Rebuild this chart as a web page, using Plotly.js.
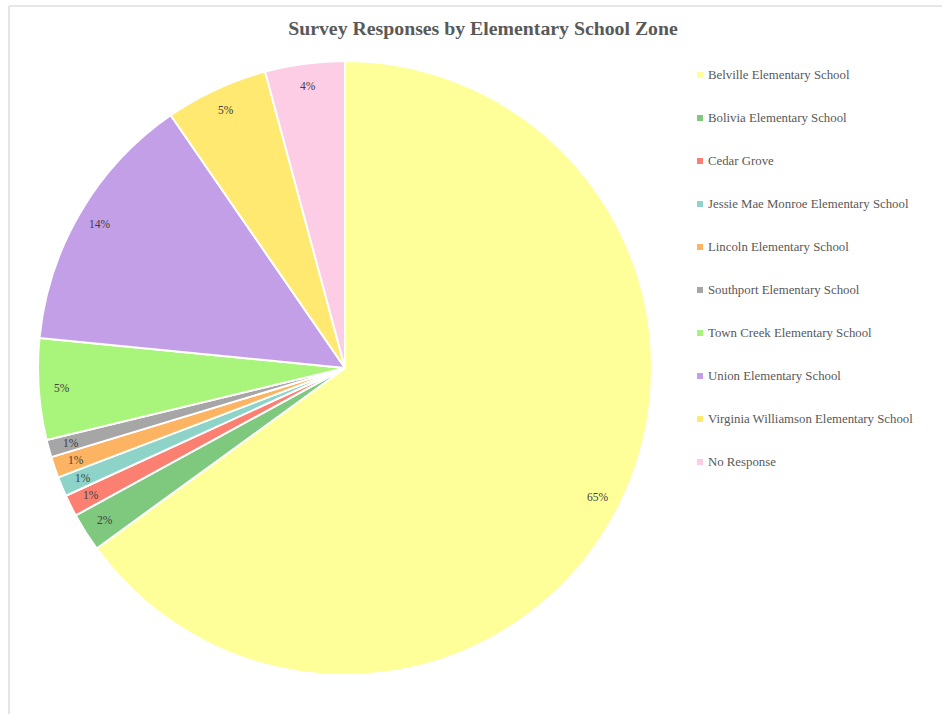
<!DOCTYPE html>
<html><head><meta charset="utf-8">
<script src="https://cdn.plot.ly/plotly-3.0.1.min.js"></script>
<style>html,body{margin:0;padding:0;background:#fff;}#chart{width:942px;height:714px;}</style>
</head><body><div id="chart"></div>
<script>
// ---- data (share of survey responses, %) ----
const labels = [
  "Belville Elementary School",
  "Bolivia Elementary School",
  "Cedar Grove",
  "Jessie Mae Monroe Elementary School",
  "Lincoln Elementary School",
  "Southport Elementary School",
  "Town Creek Elementary School",
  "Union Elementary School",
  "Virginia Williamson Elementary School",
  "No Response"
];
const values = [65.0, 2.03, 1.14, 1.03, 1.11, 0.92, 5.33, 13.83, 5.42, 4.19];
const colors = ["#ffff99", "#7fc97f", "#fb8072", "#8dd3c7", "#fdb462",
                "#a6a6a6", "#a9f47a", "#c39fe8", "#ffe970", "#fccde5"];
const chartTitle = "Survey Responses by Elementary School Zone";

// ---- layout geometry (pixels) ----
const W = 942, H = 714;
const CX = 345, CY = 368, R = 307;
const px = x => x / W, py = y => 1 - y / H;
const serif = "Liberation Serif, DejaVu Serif, serif";

const total = values.reduce((a, b) => a + b, 0);
const annotations = [];
const shapes = [];

// percentage labels placed near the rim of each slice
let cum = 0;
values.forEach((v, i) => {
  const mid = (cum + v / 2) / total * 2 * Math.PI;
  cum += v;
  const rr = 0.925 * R;
  annotations.push({
    x: px(CX + rr * Math.sin(mid)), y: py(CY - rr * Math.cos(mid)),
    xref: "paper", yref: "paper", showarrow: false,
    xanchor: "center", yanchor: "middle",
    text: Math.round(v / total * 100) + "%",
    font: {family: serif, size: 11.5, color: "#404040"}
  });
});

// legend built from labels/colors
labels.forEach((l, i) => {
  const y = 75 + 43 * i;
  shapes.push({type: "rect", xref: "paper", yref: "paper",
    x0: px(697), x1: px(703), y0: py(y + 3), y1: py(y - 3),
    fillcolor: colors[i], line: {width: 0}});
  annotations.push({x: px(705.5), y: py(y), xref: "paper", yref: "paper",
    xanchor: "left", yanchor: "middle", showarrow: false, text: l,
    font: {family: serif, size: 12.8, color: "#595959"}});
});

// chart frame lines
shapes.push({type: "line", xref: "paper", yref: "paper", x0: px(9), x1: px(942), y0: py(6), y1: py(6), line: {color: "#e6e6e6", width: 2}});
shapes.push({type: "line", xref: "paper", yref: "paper", x0: px(9), x1: px(9), y0: py(6), y1: py(714), line: {color: "#dcdcdc", width: 1.5}});

const trace = {
  type: "pie", labels: labels, values: values, sort: false,
  direction: "clockwise", rotation: 0, textinfo: "none", hoverinfo: "label+percent",
  marker: {colors: colors, line: {color: "#ffffff", width: 2}},
  domain: {x: [px(CX - R), px(CX + R)], y: [py(CY + R), py(CY - R)]},
  showlegend: false
};

const layout = {
  width: W, height: H, margin: {l: 0, r: 0, t: 0, b: 0},
  paper_bgcolor: "#ffffff",
  title: {text: "<b>" + chartTitle + "</b>", x: px(483), xanchor: "center",
          y: py(28), yanchor: "middle", yref: "container",
          font: {family: serif, size: 19.8, color: "#595959"}},
  showlegend: false,
  annotations: annotations, shapes: shapes
};

Plotly.newPlot("chart", [trace], layout, {displayModeBar: false, staticPlot: true});
</script>
</body></html>
